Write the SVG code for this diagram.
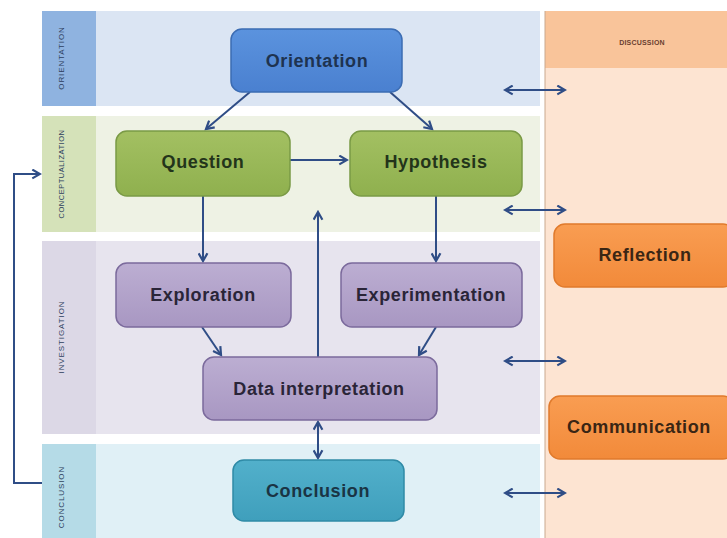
<svg xmlns="http://www.w3.org/2000/svg" width="727" height="538" viewBox="0 0 727 538">
<style>
.lbl{font-family:"Liberation Sans",Arial,sans-serif;font-size:8px;fill:#2e3f5e;text-anchor:middle;dominant-baseline:central;letter-spacing:0.9px}
.nt{font-family:"Liberation Sans",Arial,sans-serif;font-weight:bold;font-size:18px;letter-spacing:0.6px;text-anchor:middle;dominant-baseline:central}
.con{stroke:#2f4d86;stroke-width:2;fill:none}
</style>
<defs>
<marker id="ah" viewBox="0 0 10 10" refX="8" refY="5" markerWidth="5.5" markerHeight="5.5" orient="auto-start-reverse">
<path d="M1,1 L8,5 L1,9" fill="none" stroke="#2f4d86" stroke-width="2"/>
</marker>
<linearGradient id="gb" x1="0" y1="0" x2="0" y2="1"><stop offset="0" stop-color="#5b93de"/><stop offset="1" stop-color="#4a80d0"/></linearGradient>
<linearGradient id="gg" x1="0" y1="0" x2="0" y2="1"><stop offset="0" stop-color="#a3c062"/><stop offset="1" stop-color="#8fb04e"/></linearGradient>
<linearGradient id="gp" x1="0" y1="0" x2="0" y2="1"><stop offset="0" stop-color="#bcaed2"/><stop offset="1" stop-color="#a897c2"/></linearGradient>
<linearGradient id="gc" x1="0" y1="0" x2="0" y2="1"><stop offset="0" stop-color="#52b0cb"/><stop offset="1" stop-color="#3f9fbc"/></linearGradient>
<linearGradient id="go" x1="0" y1="0" x2="0" y2="1"><stop offset="0" stop-color="#f99d52"/><stop offset="1" stop-color="#f28a3a"/></linearGradient>
</defs>
<rect width="727" height="538" fill="#ffffff"/>
<g id="bands">
<rect x="42" y="11" width="498" height="95" fill="#dbe5f3"/>
<rect x="42" y="11" width="54" height="95" fill="#8fb3e0"/>
<text class="lbl" transform="translate(61,58) rotate(-90)">ORIENTATION</text>
<rect x="42" y="116" width="498" height="116" fill="#eef2e4"/>
<rect x="42" y="116" width="54" height="116" fill="#d5e2b9"/>
<text class="lbl" transform="translate(61,174) rotate(-90)" style="font-size:7.5px;letter-spacing:0.5px">CONCEPTUALIZATION</text>
<rect x="42" y="241" width="498" height="193" fill="#e7e4ee"/>
<rect x="42" y="241" width="54" height="193" fill="#dcd8e6"/>
<text class="lbl" transform="translate(61,337) rotate(-90)">INVESTIGATION</text>
<rect x="42" y="444" width="498" height="94" fill="#e0f0f6"/>
<rect x="42" y="444" width="54" height="94" fill="#b5dbe7"/>
<text class="lbl" transform="translate(61,497) rotate(-90)">CONCLUSION</text>
</g>
<g id="discussion">
<rect x="545" y="11" width="182" height="527" fill="#fde4d2"/>
<rect x="545" y="11" width="182" height="57" fill="#f9c49a"/>
<line x1="545" y1="11" x2="545" y2="538" stroke="#c9a88e" stroke-width="1"/>
<text class="lbl" x="642" y="42" style="fill:#6a4030;font-size:7px;font-weight:bold;letter-spacing:0.2px">DISCUSSION</text>
</g>
<g id="connectors">
<line class="con" x1="250" y1="92" x2="206" y2="129" marker-end="url(#ah)"/>
<line class="con" x1="390" y1="92" x2="432" y2="129" marker-end="url(#ah)"/>
<line class="con" x1="290" y1="160" x2="347" y2="160" marker-end="url(#ah)"/>
<line class="con" x1="203" y1="196" x2="203" y2="261" marker-end="url(#ah)"/>
<line class="con" x1="436" y1="196" x2="436" y2="261" marker-end="url(#ah)"/>
<line class="con" x1="202" y1="327" x2="221" y2="355" marker-end="url(#ah)"/>
<line class="con" x1="436" y1="327" x2="419" y2="355" marker-end="url(#ah)"/>
<line class="con" x1="318" y1="357" x2="318" y2="212" marker-end="url(#ah)"/>
<line class="con" x1="318" y1="422" x2="318" y2="458" marker-start="url(#ah)" marker-end="url(#ah)"/>
<polyline class="con" points="42,483 14,483 14,174 40,174" marker-end="url(#ah)"/>
<line class="con" x1="505" y1="90" x2="565" y2="90" marker-start="url(#ah)" marker-end="url(#ah)"/>
<line class="con" x1="505" y1="210" x2="565" y2="210" marker-start="url(#ah)" marker-end="url(#ah)"/>
<line class="con" x1="505" y1="361" x2="565" y2="361" marker-start="url(#ah)" marker-end="url(#ah)"/>
<line class="con" x1="505" y1="493" x2="565" y2="493" marker-start="url(#ah)" marker-end="url(#ah)"/>
</g>
<g id="orientation">
<rect x="231" y="29" width="171" height="63" rx="11" fill="url(#gb)" stroke="#3b6cb3" stroke-width="1.5"/>
<text class="nt" x="317" y="61" fill="#1e3350">Orientation</text>
</g>
<g id="question">
<rect x="116" y="131" width="174" height="65" rx="11" fill="url(#gg)" stroke="#7a9a45" stroke-width="1.5"/>
<text class="nt" x="203" y="162" fill="#23341a">Question</text>
</g>
<g id="hypothesis">
<rect x="350" y="131" width="172" height="65" rx="11" fill="url(#gg)" stroke="#7a9a45" stroke-width="1.5"/>
<text class="nt" x="436" y="162" fill="#23341a">Hypothesis</text>
</g>
<g id="exploration">
<rect x="116" y="263" width="175" height="64" rx="11" fill="url(#gp)" stroke="#7b6a9c" stroke-width="1.5"/>
<text class="nt" x="203" y="295" fill="#2a2538">Exploration</text>
</g>
<g id="experimentation">
<rect x="341" y="263" width="181" height="64" rx="11" fill="url(#gp)" stroke="#7b6a9c" stroke-width="1.5"/>
<text class="nt" x="431" y="295" fill="#2a2538">Experimentation</text>
</g>
<g id="data-interpretation">
<rect x="203" y="357" width="234" height="63" rx="11" fill="url(#gp)" stroke="#7b6a9c" stroke-width="1.5"/>
<text class="nt" x="319" y="389" fill="#2a2538">Data interpretation</text>
</g>
<g id="conclusion">
<rect x="233" y="460" width="171" height="61" rx="11" fill="url(#gc)" stroke="#2f8aa6" stroke-width="1.5"/>
<text class="nt" x="318" y="491" fill="#1a3444">Conclusion</text>
</g>
<g id="reflection">
<rect x="554" y="224" width="180" height="63" rx="11" fill="url(#go)" stroke="#e07a2c" stroke-width="1.5"/>
<text class="nt" x="645" y="255" fill="#3a2614">Reflection</text>
</g>
<g id="communication">
<rect x="549" y="396" width="185" height="63" rx="11" fill="url(#go)" stroke="#e07a2c" stroke-width="1.5"/>
<text class="nt" x="639" y="427" fill="#3a2614">Communication</text>
</g>
</svg>
